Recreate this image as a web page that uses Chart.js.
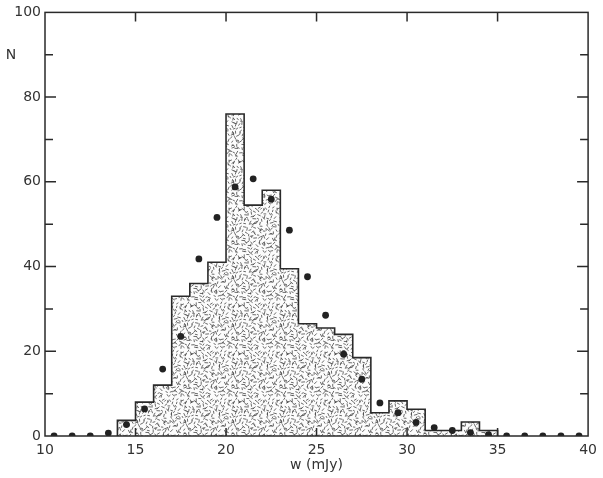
<!DOCTYPE html>
<html>
<head>
<meta charset="utf-8">
<script src="https://cdn.jsdelivr.net/npm/chart.js@4.4.0/dist/chart.umd.min.js"></script>
<style>
html, body { margin: 0; padding: 0; background: #fff; }
</style>
</head>
<body>
<canvas id="myChart" width="603" height="478"></canvas>
<script>
// histogram bins (left edge, width 1 mJy) and counts
const binStarts = [14, 15, 16, 17, 18, 19, 20, 21, 22, 23, 24, 25, 26, 27, 28, 29, 30, 31, 32, 33, 34];
const binCounts = [3.7, 8, 12, 33, 36, 41, 76, 54.5, 58, 39.5, 26.5, 25.5, 24, 18.5, 5.5, 8.3, 6.3, 1.3, 1.3, 3.3, 1.3];
const binWidth = 1;

// dots (model values at bin centres)
const dotW = [10.5, 11.5, 12.5, 13.5, 14.5, 15.5, 16.5, 17.5, 18.5, 19.5, 20.5, 21.5, 22.5, 23.5, 24.5,
              25.5, 26.5, 27.5, 28.5, 29.5, 30.5, 31.5, 32.5, 33.5, 34.5, 35.5, 36.5, 37.5, 38.5, 39.5];
const dotN = [0, 0, 0, 0.7, 2.7, 6.4, 15.8, 23.5, 41.8, 51.6, 58.8, 60.7, 55.9, 48.6, 37.6,
              28.5, 19.3, 13.4, 7.8, 5.5, 3.2, 2.0, 1.3, 0.8, 0.3, 0, 0, 0, 0, 0];

const xTicks = [10, 15, 20, 25, 30, 35, 40];
const yTicks = [0, 20, 40, 60, 80, 100];
const xInnerTicks = [15, 20, 25, 30, 35];
const yInnerTicks = [10, 20, 30, 40, 50, 60, 70, 80, 90];

const ink = "#2a2a2a";
const labelFont = { family: "DejaVu Sans", size: 14, weight: "normal" };

// histogram outline points
const histPoints = [{ x: binStarts[0], y: 0 }];
binStarts.forEach((s, i) => histPoints.push({ x: s, y: binCounts[i] }));
const lastEdge = binStarts[binStarts.length - 1] + binWidth;
histPoints.push({ x: lastEdge, y: binCounts[binCounts.length - 1] }, { x: lastEdge, y: 0 });

const dotPoints = dotW.map((w, i) => ({ x: w, y: dotN[i] }));

// stipple texture made of short dashes
function makeStipple() {
    const size = 48;
    const tile = document.createElement("canvas");
    tile.width = size;
    tile.height = size;
    const t = tile.getContext("2d");
    t.fillStyle = "#fcfcfc";
    t.fillRect(0, 0, size, size);
    t.strokeStyle = "#3a3a3a";
    t.lineWidth = 0.75;
    t.lineCap = "round";
    let h = 987654321;
    const next = () => {
        h |= 0; h = h + 0x6D2B79F5 | 0;
        let r = Math.imul(h ^ h >>> 15, 1 | h);
        r = r + Math.imul(r ^ r >>> 7, 61 | r) ^ r;
        return ((r ^ r >>> 14) >>> 0) / 4294967296;
    };
    // jittered grid so the dashes spread evenly
    const step = 3.43;
    for (let gx = 0; gx < size - 0.1; gx += step) {
        for (let gy = 0; gy < size - 0.1; gy += step) {
            const cx = gx + next() * step, cy = gy + next() * step;
            const a = next() * Math.PI;
            const l = 0.7 + next() * 0.8;
            for (const ox of [-size, 0, size]) {
                for (const oy of [-size, 0, size]) {
                    t.beginPath();
                    t.moveTo(cx + ox - Math.cos(a) * l, cy + oy - Math.sin(a) * l);
                    t.lineTo(cx + ox + Math.cos(a) * l, cy + oy + Math.sin(a) * l);
                    t.stroke();
                }
            }
        }
    }
    return t.createPattern(tile, "repeat");
}

const frameTicks = {
    id: "frameTicks",
    afterDatasetsDraw(chart) {
        const { ctx, chartArea: a, scales: { x, y } } = chart;
        ctx.save();
        ctx.strokeStyle = ink;
        ctx.lineWidth = 1.5;
        ctx.strokeRect(a.left, a.top, a.right - a.left, a.bottom - a.top);
        ctx.beginPath();
        yInnerTicks.forEach(v => {
            const py = y.getPixelForValue(v);
            const len = v % 20 === 0 ? 11 : 8;
            ctx.moveTo(a.left, py); ctx.lineTo(a.left + len, py);
            ctx.moveTo(a.right, py); ctx.lineTo(a.right - len, py);
        });
        xInnerTicks.forEach(v => {
            const px = x.getPixelForValue(v);
            ctx.moveTo(px, a.bottom); ctx.lineTo(px, a.bottom - 8);
            ctx.moveTo(px, a.top); ctx.lineTo(px, a.top + 9);
        });
        ctx.stroke();
        ctx.fillStyle = "#333";
        ctx.font = "14px 'DejaVu Sans'";
        ctx.textAlign = "center";
        ctx.textBaseline = "middle";
        ctx.fillText("N", 11, 55);
        ctx.restore();
    }
};

const ctx = document.getElementById("myChart");

new Chart(ctx, {
    type: "line",
    data: {
        datasets: [
            {
                label: "observed",
                data: dotPoints,
                showLine: false,
                pointRadius: 3.4,
                pointBackgroundColor: "#222",
                pointBorderWidth: 0,
                order: 0
            },
            {
                label: "histogram",
                data: histPoints,
                stepped: "before",
                borderColor: ink,
                borderWidth: 1.6,
                backgroundColor: makeStipple(),
                fill: "origin",
                pointRadius: 0,
                order: 1
            }
        ]
    },
    options: {
        responsive: false,
        animation: false,
        layout: { padding: { left: 0, right: 11, top: 11, bottom: 0 } },
        plugins: { legend: { display: false }, tooltip: { enabled: false } },
        scales: {
            x: {
                type: "linear",
                min: 10,
                max: 40,
                grid: { display: false, drawTicks: false },
                border: { display: false },
                afterBuildTicks: s => { s.ticks = xTicks.map(v => ({ value: v })); },
                afterFit: s => { s.height = 42; },
                ticks: { padding: 6, color: "#333", font: labelFont, maxRotation: 0 },
                title: { display: true, text: "w (mJy)", color: "#333", font: labelFont, padding: { top: 0, bottom: 4 } }
            },
            y: {
                min: 0,
                max: 100,
                grid: { display: false, drawTicks: false },
                border: { display: false },
                afterBuildTicks: s => { s.ticks = yTicks.map(v => ({ value: v })); },
                afterFit: s => { s.width = 45; },
                ticks: { padding: 4, color: "#333", font: labelFont }
            }
        }
    },
    plugins: [frameTicks]
});
</script>
</body>
</html>
